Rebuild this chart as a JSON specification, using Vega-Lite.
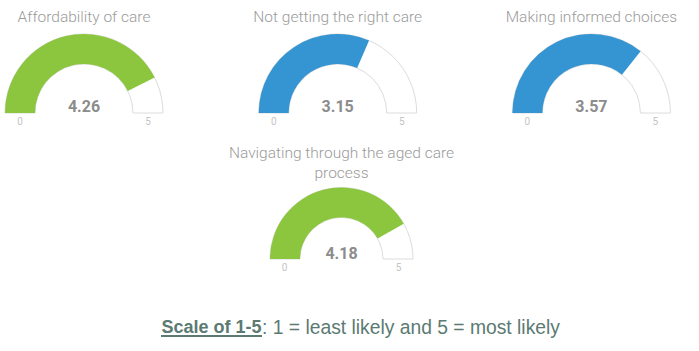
{
  "$schema": "https://vega.github.io/schema/vega-lite/v6.json",
  "padding": {"left": 3, "top": 10, "right": 5, "bottom": 5},
  "background": "#ffffff",
  "datasets": {
    "gauges": [
      {"name": "Affordability of care", "value": 4.26, "min": 0, "max": 5},
      {"name": "Not getting the right care", "value": 3.15, "min": 0, "max": 5},
      {"name": "Making informed choices", "value": 3.57, "min": 0, "max": 5},
      {"name": "Navigating through the aged care process", "value": 4.18, "min": 0, "max": 5}
    ],
    "caption": [
      {"label": "Scale of 1-5", "rest": ": 1 = least likely and 5 = most likely"}
    ]
  },
  "config": {
    "view": {"stroke": null},
    "title": {"font": "Roboto", "fontWeight": 300, "fontSize": 15.5, "color": "#9b9b9b"}
  },
  "bounds": "flush",
  "spacing": 286,
  "vconcat": [
    {
      "bounds": "flush",
      "spacing": 153.5,
      "vconcat": [
        {
          "bounds": "flush",
          "spacing": 95.7,
          "hconcat": [
            {
              "width": 158, "height": 79,
              "title": {"text": "Affordability of care", "offset": 6.2},
              "data": {"name": "gauges"},
              "transform": [{"filter": "datum.name === 'Affordability of care'"}],
              "encoding": {"y": {"datum": 0, "type": "quantitative", "scale": {"domain": [0, 1]}, "axis": null}},
              "layer": [
                {"mark": {"type": "arc", "outerRadius": 79, "innerRadius": 49, "fill": "#ffffff", "stroke": "#dcdcdc", "strokeWidth": 1},
                 "encoding": {"theta": {"field": "min", "type": "quantitative", "stack": null, "scale": {"domain": [0, 5], "range": [-1.5708, 1.5708]}}, "theta2": {"field": "max"}}},
                {"mark": {"type": "arc", "outerRadius": 79, "innerRadius": 49},
                 "encoding": {"theta": {"field": "min", "type": "quantitative", "stack": null, "scale": {"domain": [0, 5], "range": [-1.5708, 1.5708]}}, "theta2": {"field": "value"},
                   "color": {"condition": {"test": "datum.value >= 4", "value": "#8cc63f"}, "value": "#3595d3"}}},
                {"mark": {"type": "text", "font": "Roboto", "fontWeight": "bold", "fontSize": 16, "color": "#8c8c8c", "baseline": "alphabetic", "dy": -1},
                 "encoding": {"text": {"field": "value", "type": "quantitative", "format": ".2f"}}},
                {"mark": {"type": "text", "font": "Roboto", "fontSize": 10, "color": "#c4c4c4", "baseline": "alphabetic", "dy": 12, "radius": 64},
                 "encoding": {"theta": {"field": "min", "type": "quantitative", "stack": null, "scale": {"domain": [0, 5], "range": [-1.5708, 1.5708]}}, "text": {"field": "min", "type": "quantitative"}}},
                {"mark": {"type": "text", "font": "Roboto", "fontSize": 10, "color": "#c4c4c4", "baseline": "alphabetic", "dy": 12, "radius": 64},
                 "encoding": {"theta": {"field": "max", "type": "quantitative", "stack": null, "scale": {"domain": [0, 5], "range": [-1.5708, 1.5708]}}, "text": {"field": "max", "type": "quantitative"}}}
              ]
            },
            {
              "width": 158, "height": 79,
              "title": {"text": "Not getting the right care", "offset": 6.2},
              "data": {"name": "gauges"},
              "transform": [{"filter": "datum.name === 'Not getting the right care'"}],
              "encoding": {"y": {"datum": 0, "type": "quantitative", "scale": {"domain": [0, 1]}, "axis": null}},
              "layer": [
                {"mark": {"type": "arc", "outerRadius": 79, "innerRadius": 49, "fill": "#ffffff", "stroke": "#dcdcdc", "strokeWidth": 1},
                 "encoding": {"theta": {"field": "min", "type": "quantitative", "stack": null, "scale": {"domain": [0, 5], "range": [-1.5708, 1.5708]}}, "theta2": {"field": "max"}}},
                {"mark": {"type": "arc", "outerRadius": 79, "innerRadius": 49},
                 "encoding": {"theta": {"field": "min", "type": "quantitative", "stack": null, "scale": {"domain": [0, 5], "range": [-1.5708, 1.5708]}}, "theta2": {"field": "value"},
                   "color": {"condition": {"test": "datum.value >= 4", "value": "#8cc63f"}, "value": "#3595d3"}}},
                {"mark": {"type": "text", "font": "Roboto", "fontWeight": "bold", "fontSize": 16, "color": "#8c8c8c", "baseline": "alphabetic", "dy": -1},
                 "encoding": {"text": {"field": "value", "type": "quantitative", "format": ".2f"}}},
                {"mark": {"type": "text", "font": "Roboto", "fontSize": 10, "color": "#c4c4c4", "baseline": "alphabetic", "dy": 12, "radius": 64},
                 "encoding": {"theta": {"field": "min", "type": "quantitative", "stack": null, "scale": {"domain": [0, 5], "range": [-1.5708, 1.5708]}}, "text": {"field": "min", "type": "quantitative"}}},
                {"mark": {"type": "text", "font": "Roboto", "fontSize": 10, "color": "#c4c4c4", "baseline": "alphabetic", "dy": 12, "radius": 64},
                 "encoding": {"theta": {"field": "max", "type": "quantitative", "stack": null, "scale": {"domain": [0, 5], "range": [-1.5708, 1.5708]}}, "text": {"field": "max", "type": "quantitative"}}}
              ]
            },
            {
              "width": 158, "height": 79,
              "title": {"text": "Making informed choices", "offset": 6.2},
              "data": {"name": "gauges"},
              "transform": [{"filter": "datum.name === 'Making informed choices'"}],
              "encoding": {"y": {"datum": 0, "type": "quantitative", "scale": {"domain": [0, 1]}, "axis": null}},
              "layer": [
                {"mark": {"type": "arc", "outerRadius": 79, "innerRadius": 49, "fill": "#ffffff", "stroke": "#dcdcdc", "strokeWidth": 1},
                 "encoding": {"theta": {"field": "min", "type": "quantitative", "stack": null, "scale": {"domain": [0, 5], "range": [-1.5708, 1.5708]}}, "theta2": {"field": "max"}}},
                {"mark": {"type": "arc", "outerRadius": 79, "innerRadius": 49},
                 "encoding": {"theta": {"field": "min", "type": "quantitative", "stack": null, "scale": {"domain": [0, 5], "range": [-1.5708, 1.5708]}}, "theta2": {"field": "value"},
                   "color": {"condition": {"test": "datum.value >= 4", "value": "#8cc63f"}, "value": "#3595d3"}}},
                {"mark": {"type": "text", "font": "Roboto", "fontWeight": "bold", "fontSize": 16, "color": "#8c8c8c", "baseline": "alphabetic", "dy": -1},
                 "encoding": {"text": {"field": "value", "type": "quantitative", "format": ".2f"}}},
                {"mark": {"type": "text", "font": "Roboto", "fontSize": 10, "color": "#c4c4c4", "baseline": "alphabetic", "dy": 12, "radius": 64},
                 "encoding": {"theta": {"field": "min", "type": "quantitative", "stack": null, "scale": {"domain": [0, 5], "range": [-1.5708, 1.5708]}}, "text": {"field": "min", "type": "quantitative"}}},
                {"mark": {"type": "text", "font": "Roboto", "fontSize": 10, "color": "#c4c4c4", "baseline": "alphabetic", "dy": 12, "radius": 64},
                 "encoding": {"theta": {"field": "max", "type": "quantitative", "stack": null, "scale": {"domain": [0, 5], "range": [-1.5708, 1.5708]}}, "text": {"field": "max", "type": "quantitative"}}}
              ]
            }
          ]
        },
        {
          "bounds": "flush",
          "spacing": 0,
          "hconcat": [
            {"width": 265, "height": 1, "data": {"name": "caption"}, "mark": {"type": "point", "opacity": 0}, "encoding": {}},
            {
              "width": 143, "height": 71.5,
              "title": {"text": ["Navigating through the aged care", "process"], "offset": 4, "lineHeight": 19.7},
              "data": {"name": "gauges"},
              "transform": [{"filter": "datum.name === 'Navigating through the aged care process'"}],
              "encoding": {"y": {"datum": 0, "type": "quantitative", "scale": {"domain": [0, 1]}, "axis": null}},
              "layer": [
                {"mark": {"type": "arc", "outerRadius": 71.5, "innerRadius": 41.5, "fill": "#ffffff", "stroke": "#dcdcdc", "strokeWidth": 1},
                 "encoding": {"theta": {"field": "min", "type": "quantitative", "stack": null, "scale": {"domain": [0, 5], "range": [-1.5708, 1.5708]}}, "theta2": {"field": "max"}}},
                {"mark": {"type": "arc", "outerRadius": 71.5, "innerRadius": 41.5},
                 "encoding": {"theta": {"field": "min", "type": "quantitative", "stack": null, "scale": {"domain": [0, 5], "range": [-1.5708, 1.5708]}}, "theta2": {"field": "value"},
                   "color": {"condition": {"test": "datum.value >= 4", "value": "#8cc63f"}, "value": "#3595d3"}}},
                {"mark": {"type": "text", "font": "Roboto", "fontWeight": "bold", "fontSize": 16, "color": "#8c8c8c", "baseline": "alphabetic", "dy": 0},
                 "encoding": {"text": {"field": "value", "type": "quantitative", "format": ".2f"}}},
                {"mark": {"type": "text", "font": "Roboto", "fontSize": 10, "color": "#c4c4c4", "baseline": "alphabetic", "dy": 12, "radius": 57},
                 "encoding": {"theta": {"field": "min", "type": "quantitative", "stack": null, "scale": {"domain": [0, 5], "range": [-1.5708, 1.5708]}}, "text": {"field": "min", "type": "quantitative"}}},
                {"mark": {"type": "text", "font": "Roboto", "fontSize": 10, "color": "#c4c4c4", "baseline": "alphabetic", "dy": 12, "radius": 57},
                 "encoding": {"theta": {"field": "max", "type": "quantitative", "stack": null, "scale": {"domain": [0, 5], "range": [-1.5708, 1.5708]}}, "text": {"field": "max", "type": "quantitative"}}}
              ]
            }
          ]
        }
      ]
    },
    {
      "bounds": "flush",
      "spacing": 0,
      "hconcat": [
        {"width": 156, "height": 1, "data": {"name": "caption"}, "mark": {"type": "point", "opacity": 0}, "encoding": {}},
        {
          "width": 101, "height": 16,
          "data": {"name": "caption"},
          "layer": [
            {"mark": {"type": "text", "font": "Liberation Sans", "fontWeight": "bold", "fontSize": 18, "color": "#5b7a73", "baseline": "middle"},
             "encoding": {"text": {"field": "label", "type": "nominal"}}},
            {"mark": {"type": "rule", "color": "#5b7a73", "strokeWidth": 2},
             "encoding": {"y": {"datum": 0, "type": "quantitative", "scale": {"domain": [0, 1]}, "axis": null}}},
            {"mark": {"type": "text", "font": "Liberation Sans", "fontSize": 19.3, "color": "#5b7a73", "baseline": "middle", "align": "left"},
             "encoding": {"text": {"field": "rest", "type": "nominal"}, "x": {"datum": 1, "type": "quantitative", "scale": {"domain": [0, 1]}, "axis": null}}}
          ]
        }
      ]
    }
  ]
}
